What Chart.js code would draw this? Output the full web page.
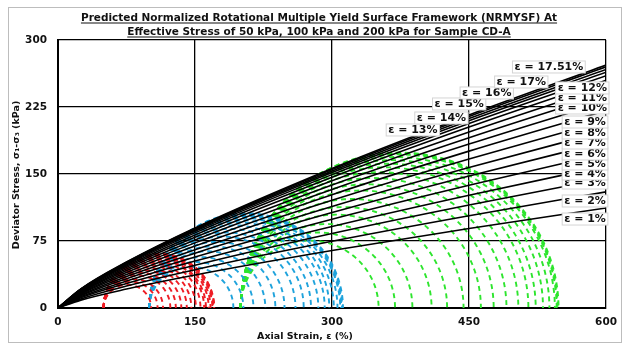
<!DOCTYPE html>
<html><head><meta charset="utf-8">
<script src="https://cdn.jsdelivr.net/npm/chart.js@4.4.1/dist/chart.umd.min.js"></script>
<style>html,body{margin:0;padding:0;background:#fff}#w{width:625px;height:348px}</style>
</head><body><div id="w"><canvas id="c" width="625" height="348"></canvas></div>
<script>
// ---- data ----
const xTicks = [0, 150, 300, 450, 600];
const yTicks = [0, 75, 150, 225, 300];
const strainLabels = ['1%','2%','3%','4%','5%','6%','7%','8%','9%','10%','11%','12%','13%','14%','15%','16%','17%','17.51%'];
const envX = [0, 25, 75, 150, 300, 450, 600];
const env1  = [0, 8.8, 21.2, 36.9, 64.3, 89.0, 112];
const env2  = [0, 10.2, 24.6, 42.9, 74.7, 103.3, 130];
const env3  = [0, 11.4, 27.5, 47.8, 83.3, 115.2, 145];
const env4  = [0, 12.5, 30.1, 52.5, 91.3, 126.3, 159];
const env5  = [0, 13.6, 32.8, 57.1, 99.4, 137.4, 173];
const env6  = [0, 14.6, 35.2, 61.4, 106.8, 147.8, 186];
const env7  = [0, 15.6, 37.5, 65.3, 113.7, 157.3, 198];
const env8  = [0, 16.5, 39.8, 69.3, 120.6, 166.8, 210];
const env9  = [0, 17.4, 41.9, 72.9, 126.9, 175.6, 221];
const env10 = [0, 18.2, 43.8, 76.2, 132.7, 183.5, 231];
const env11 = [0, 18.9, 45.5, 79.2, 137.8, 190.7, 240];
const env12 = [0, 19.5, 47.0, 81.8, 142.4, 197.0, 248];
const env13 = [0, 20.1, 48.3, 84.1, 146.4, 202.6, 255];
const env14 = [0, 20.5, 49.3, 85.8, 149.3, 206.5, 260];
const env15 = [0, 20.8, 50.0, 87.1, 151.6, 209.7, 264];
const env16 = [0, 21.0, 50.6, 88.1, 153.3, 212.1, 267];
const env17 = [0, 21.2, 51.2, 89.1, 155.1, 214.5, 270];
const env1751 = [0, 21.4, 51.5, 89.7, 156.2, 216.1, 272];
const envelopes = [env1,env2,env3,env4,env5,env6,env7,env8,env9,env10,env11,env12,env13,env14,env15,env16,env17,env1751];
// Mohr circles: confining stress and deviator stress at each strain level
const sigma3 = [50, 100, 200];
const q50  = [52, 59, 65, 73, 79, 85, 91, 96, 101, 106, 110, 112, 115, 117, 119, 120, 121, 121];
const q100 = [92, 103, 114, 127, 138, 148, 160, 169, 177, 185, 192, 197, 202, 206, 209, 210, 211, 212];
const q200 = [151, 169, 188, 209, 226, 244, 263, 277, 291, 304, 315, 323, 331, 338, 344, 346, 347, 348];
const qSets = [q50, q100, q200];

// ---- styling / layout ----
const circleColors = ['#ee1c24', '#1fa3dc', '#2ee52e'];
const labelPos = [ // label centres in data units
  [577,99.6],[577,119.8],[577,139.9],[577,150],[577,161.2],[577,172.4],[577,184.7],[577,195.9],[577,208.2],
  [574,223.9],[574,235.1],[574,246.3],
  [388.5,199.3],[419.8,212.7],[439.2,228.4],[469.4,240.7],[507.2,253],[537.4,269.8]
];

const datasets = [];
envelopes.forEach((ys, i) => {
  datasets.push({
    label: 'ε = ' + strainLabels[i],
    data: envX.map((x, j) => ({x: x, y: ys[j]})),
    showLine: true, borderColor: '#000', borderWidth: 1.6,
    pointRadius: 0, cubicInterpolationMode: 'monotone', fill: false
  });
});
qSets.forEach((qs, g) => {
  qs.forEach(q => {
    const c = sigma3[g] + q / 2, r = q / 2, pts = [];
    for (let k = 0; k <= 90; k++) {
      const a = Math.PI * k / 90;
      pts.push({x: c - r * Math.cos(a), y: r * Math.sin(a)});
    }
    datasets.push({
      data: pts, showLine: true, borderColor: circleColors[g], borderWidth: 1.9,
      borderDash: [5, 4], pointRadius: 0, fill: false, tension: 0
    });
  });
});

const FONT = '"DejaVu Sans", sans-serif';
const deco = {
  id: 'deco',
  afterDatasetsDraw(chart) {
    const ctx = chart.ctx, xs = chart.scales.x, ys = chart.scales.y;
    ctx.save();
    ctx.font = 'bold 11px ' + FONT;
    ctx.textAlign = 'center'; ctx.textBaseline = 'middle';
    labelPos.forEach((p, i) => {
      const px = xs.getPixelForValue(p[0]), py = ys.getPixelForValue(p[1]);
      const t = 'ε = ' + strainLabels[i];
      const w = ctx.measureText(t).width + 4, h = 12;
      ctx.fillStyle = '#fff'; ctx.fillRect(px - w / 2, py - h / 2, w, h);
      ctx.strokeStyle = '#d4d4d4'; ctx.lineWidth = 1; ctx.strokeRect(px - w / 2, py - h / 2, w, h);
      ctx.fillStyle = '#111'; ctx.fillText(t, px, py + 0.5);
    });
    ctx.restore();
  },
  afterDraw(chart) {
    const ctx = chart.ctx;
    ctx.save();
    ctx.strokeStyle = '#bdbdbd'; ctx.lineWidth = 1;
    ctx.strokeRect(8.5, 7.5, 613, 335);
    ctx.fillStyle = '#111';
    ctx.font = 'bold 10.5px ' + FONT;
    ctx.textAlign = 'center'; ctx.textBaseline = 'alphabetic';
    const lines = [['Predicted Normalized Rotational Multiple Yield Surface Framework (NRMYSF) At', 21],
                   ['Effective Stress of 50 kPa, 100 kPa and 200 kPa for Sample CD-A', 35]];
    lines.forEach(([t, y]) => {
      const w = ctx.measureText(t).width;
      ctx.fillText(t, 319, y);
      ctx.fillRect(319 - w / 2, y + 1.5, w, 1);
    });
    ctx.font = 'bold 9.5px ' + FONT;
    ctx.fillText('Axial Strain, ε (%)', 305, 339);
    ctx.translate(17, 175); ctx.rotate(-Math.PI / 2);
    ctx.textBaseline = 'middle';
    ctx.fillText('Deviator Stress, σ₁-σ₃ (kPa)', 0, 0);
    ctx.restore();
  }
};

new Chart(document.getElementById('c'), {
  type: 'scatter',
  data: { datasets },
  options: {
    responsive: false, animation: false, devicePixelRatio: 1,
    layout: { padding: { left: 0, top: 40, right: 11, bottom: 0 } },
    plugins: { legend: { display: false }, tooltip: { enabled: false }, title: { display: false } },
    scales: {
      x: {
        type: 'linear', min: 0, max: 600,
        afterBuildTicks: s => { s.ticks = xTicks.map(v => ({value: v})); },
        afterFit: s => { s.height = 40; },
        grid: { color: '#000', lineWidth: 1.3, drawTicks: false },
        border: { color: '#000', width: 2 },
        ticks: { color: '#111', font: { family: FONT, size: 10.5, weight: 'bold' }, padding: 8, maxRotation: 0 }
      },
      y: {
        type: 'linear', min: 0, max: 300,
        afterBuildTicks: s => { s.ticks = yTicks.map(v => ({value: v})); },
        afterFit: s => { s.width = 58; },
        grid: { color: '#000', lineWidth: 1.3, drawTicks: false },
        border: { color: '#000', width: 2 },
        ticks: { color: '#111', font: { family: FONT, size: 10.5, weight: 'bold' }, padding: 11 }
      }
    }
  },
  plugins: [deco]
});
</script></body></html>
